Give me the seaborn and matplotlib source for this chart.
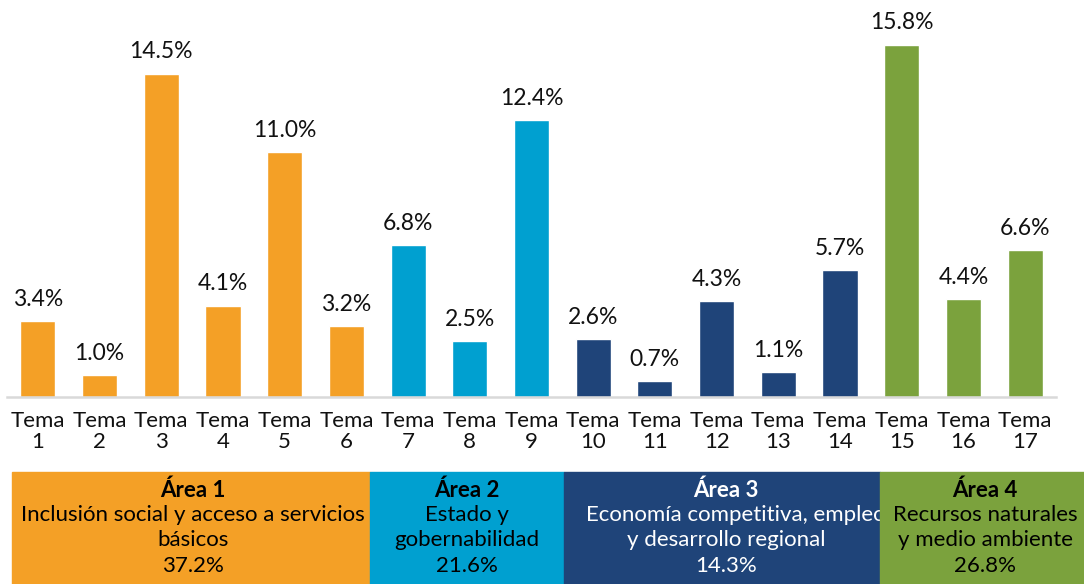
import pandas as pd
import matplotlib.pyplot as plt
import seaborn as sns
from matplotlib.patches import Rectangle

# Data
temas = [f"Tema\n{i}" for i in range(1, 18)]
valores = [3.4, 1.0, 14.5, 4.1, 11.0, 3.2, 6.8, 2.5, 12.4, 2.6, 0.7, 4.3, 1.1, 5.7, 15.8, 4.4, 6.6]
areas = ["Área 1"] * 6 + ["Área 2"] * 3 + ["Área 3"] * 5 + ["Área 4"] * 3

area_nombres = ["Área 1", "Área 2", "Área 3", "Área 4"]
area_desc = [
    ["Inclusión social y acceso a servicios", "básicos"],
    ["Estado y", "gobernabilidad"],
    ["Economía competitiva, empleo", "y desarrollo regional"],
    ["Recursos naturales", "y medio ambiente"],
]
area_pct = [37.2, 21.6, 14.3, 26.8]

colores = {"Área 1": "#F4A026", "Área 2": "#00A0D0", "Área 3": "#1F4479", "Área 4": "#7BA23D"}
texto_color = {"Área 1": "black", "Área 2": "black", "Área 3": "white", "Área 4": "black"}

df = pd.DataFrame({"tema": temas, "valor": valores, "area": areas})

sns.set_style("white")
plt.rcParams["font.family"] = ["Lato", "DejaVu Sans"]

W, H = 1084, 584
fig = plt.figure(figsize=(W / 100, H / 100), dpi=100)
ax = fig.add_axes([7 / W, (H - 397) / H, 1049 / W, 397 / H])

sns.barplot(data=df, x="tema", y="valor", hue="area", palette=colores,
            dodge=False, width=0.57, legend=False, ax=ax, saturation=1)

for i, v in enumerate(valores):
    ax.annotate(f"{v:.1f}%", (i, v), xytext=(0, 8), textcoords="offset points",
                ha="center", va="bottom", fontsize=16.5, color="#111111")

ax.set_xlim(-0.5, len(temas) - 0.5)
ax.set_ylim(0, 17.8)
ax.set_xlabel("")
ax.set_ylabel("")
ax.set_yticks([])
ax.tick_params(axis="x", length=0, pad=10, labelsize=16, labelcolor="#111111")
for lab in ax.get_xticklabels():
    lab.set_linespacing(1.1)
for s in ["top", "left", "right"]:
    ax.spines[s].set_visible(False)
ax.spines["bottom"].set_color("#D9D9D9")
ax.spines["bottom"].set_linewidth(1.8)

# Area boxes along the bottom
ax2 = fig.add_axes([0, 0, 1, 112 / H])
ax2.set_xlim(0, W)
ax2.set_ylim(0, 112)
ax2.axis("off")
bordes = [12, 370, 564, 880, 1090]
centros = [193, 467, 726, 985]
for k, nombre in enumerate(area_nombres):
    x0, x1 = bordes[k], bordes[k + 1]
    ax2.add_patch(Rectangle((x0, 0), x1 - x0, 112, color=colores[nombre],
                            zorder=2 * k + 1, clip_on=False))
    cx = centros[k]
    tc = texto_color[nombre]
    ax2.text(cx, 94, nombre, ha="center", va="center", fontsize=16,
             fontweight="bold", color=tc, zorder=2 * k + 2)
    for j, linea in enumerate(area_desc[k]):
        # the long Área 3 line runs on under the Área 4 box, as in the original
        if k == 2 and j == 0:
            ax2.text(586, 69, linea, ha="left", va="center", fontsize=16,
                     color=tc, zorder=2 * k + 2)
        else:
            ax2.text(cx, 69 - 25 * j, linea, ha="center", va="center", fontsize=16,
                     color=tc, zorder=2 * k + 2)
    ax2.text(cx, 18, f"{area_pct[k]:.1f}%", ha="center", va="center",
             fontsize=16, color=tc, zorder=2 * k + 2)

fig.savefig("out.png", dpi=100)
